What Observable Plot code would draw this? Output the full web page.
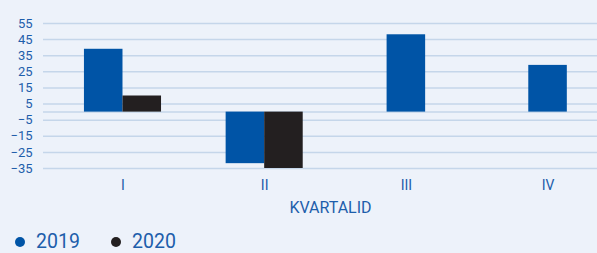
<!DOCTYPE html>
<html><head><meta charset="utf-8">
<script src="https://cdn.jsdelivr.net/npm/d3@7"></script>
<script src="https://cdn.jsdelivr.net/npm/@observablehq/plot@0.6"></script>
<style>
html,body{margin:0;padding:0;background:#edf2fa;}
body{width:597px;height:253px;overflow:hidden;font-family:Roboto,sans-serif;position:relative;}
#legend{position:absolute;left:0;top:232px;width:597px;height:20px;font-size:19.5px;line-height:20px;color:#1d5eab;}
#legend .dot{position:absolute;top:5px;width:10px;height:10px;border-radius:50%;}
#legend .lab{position:absolute;top:0;}
</style></head>
<body><div id="chart"></div><div id="legend"></div>
<script>
const quarters = ["I","II","III","IV"];
const years = ["2019","2020"];
const v2019 = [39, -32, 48, 29];
const v2020 = [10, -35, null, null];
const yTicks = [55,45,35,25,15,5,-5,-15,-25,-35];
const colors = ["#0054a6","#231f20"];

const bw = 0.272;
const rows = [];
quarters.forEach((q,i)=>{
  const vals = [v2019[i], v2020[i]];
  const present = years.map((y,k)=>({year:y, value:vals[k]})).filter(d=>d.value!=null);
  const n = present.length;
  present.forEach((d,k)=>{
    const x1 = i - n*bw/2 + k*bw;
    rows.push({quarter:q, year:d.year, value:d.value, x1, x2:x1+bw});
  });
});

const chart = Plot.plot({
  width:597, height:228,
  marginLeft:43, marginRight:0, marginTop:23, marginBottom:60,
  style:{background:"transparent", fontFamily:"Roboto, sans-serif", color:"#1d5eab"},
  x:{domain:[-0.561,3.349], axis:null},
  y:{domain:[-35,55], axis:null},
  color:{domain:years, range:colors},
  marks:[
    Plot.ruleY([...yTicks,0], {stroke:"#c5d6ea", strokeWidth:1.5}),
    Plot.rectY(rows, {x1:"x1", x2:"x2", y1:0, y2:"value", fill:"year"}),
    Plot.axisY(yTicks, {tickSize:0, tickPadding:11, fontSize:13, color:"#1d5eab", label:null}),
    Plot.axisX([0,1,2,3], {tickSize:0, tickPadding:12, fontSize:14, color:"#1d5eab", label:null, tickFormat:i=>quarters[i]}),
    Plot.text(["KVARTALID"], {frameAnchor:"bottom", dy:44, dx:10, fontSize:16, fill:"#1d5eab"})
  ]
});
document.getElementById("chart").append(chart);
const lg = document.getElementById("legend");
const dotX = [15, 111], labX = [36, 132];
years.forEach((y,k)=>{
  const d = document.createElement("span"); d.className="dot";
  d.style.left = dotX[k]+"px"; d.style.background = colors[k];
  const t = document.createElement("span"); t.className="lab";
  t.style.left = labX[k]+"px"; t.textContent = y;
  lg.append(d, t);
});
</script></body></html>
